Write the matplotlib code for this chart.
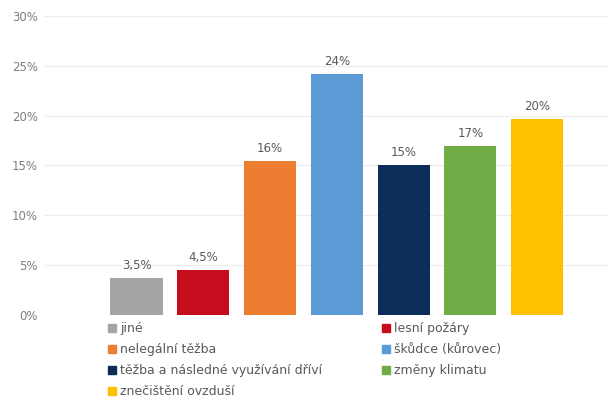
import matplotlib.pyplot as plt
from matplotlib.patches import Patch

# categories and values
categories = ['jiné', 'lesní požáry', 'nelegální těžba', 'škůdce (kůrovec)',
              'těžba a následné využívání dříví', 'změny klimatu', 'znečištění ovzduší']
values = [3.7, 4.5, 15.5, 24.2, 15.1, 17.0, 19.7]
value_labels = ['3,5%', '4,5%', '16%', '24%', '15%', '17%', '20%']
colors = ['#a5a5a5', '#c50d1e', '#ed7d31', '#5b9bd5', '#0b2d57', '#70ad47', '#ffc000']
yticks = [0, 5, 10, 15, 20, 25, 30]

plt.rcParams['font.family'] = ['DejaVu Sans']

fig = plt.figure(figsize=(6.16, 4.0), dpi=100)
ax = fig.add_axes([45 / 616, 1 - 315 / 400, 563 / 616, 299 / 400])

x = list(range(len(categories)))
ax.bar(x, values, width=0.78, color=colors, zorder=2)

for xi, v, lab in zip(x, values, value_labels):
    ax.text(xi, v + 0.6, lab, ha='center', va='bottom', fontsize=8.5, color='#595959')

ax.set_xlim(-1.37, 7.06)
ax.set_ylim(0, 30)
ax.set_yticks(yticks)
ax.set_yticklabels([f'{t}%' for t in yticks])
ax.set_xticks([])
ax.grid(axis='y', color='#ececec', linewidth=0.8, zorder=0)
for s in ax.spines.values():
    s.set_visible(False)
ax.tick_params(axis='y', length=0, labelsize=8.5, labelcolor='#7f7f7f', pad=5)

# legend in row order: two columns
handles = [Patch(color=c, label=l) for c, l in zip(colors, categories)]
order = [0, 2, 4, 6, 1, 3, 5]
fig.legend([handles[i] for i in order], [categories[i] for i in order],
           loc='upper left', bbox_to_anchor=(108 / 616, 1 - 322 / 400),
           ncol=2, frameon=False, fontsize=9, labelcolor='#595959',
           handlelength=0.6, handleheight=0.6, handletextpad=0.35,
           labelspacing=0.65, columnspacing=4.8, borderpad=0, borderaxespad=0)

fig.savefig('out.png', dpi=100)
